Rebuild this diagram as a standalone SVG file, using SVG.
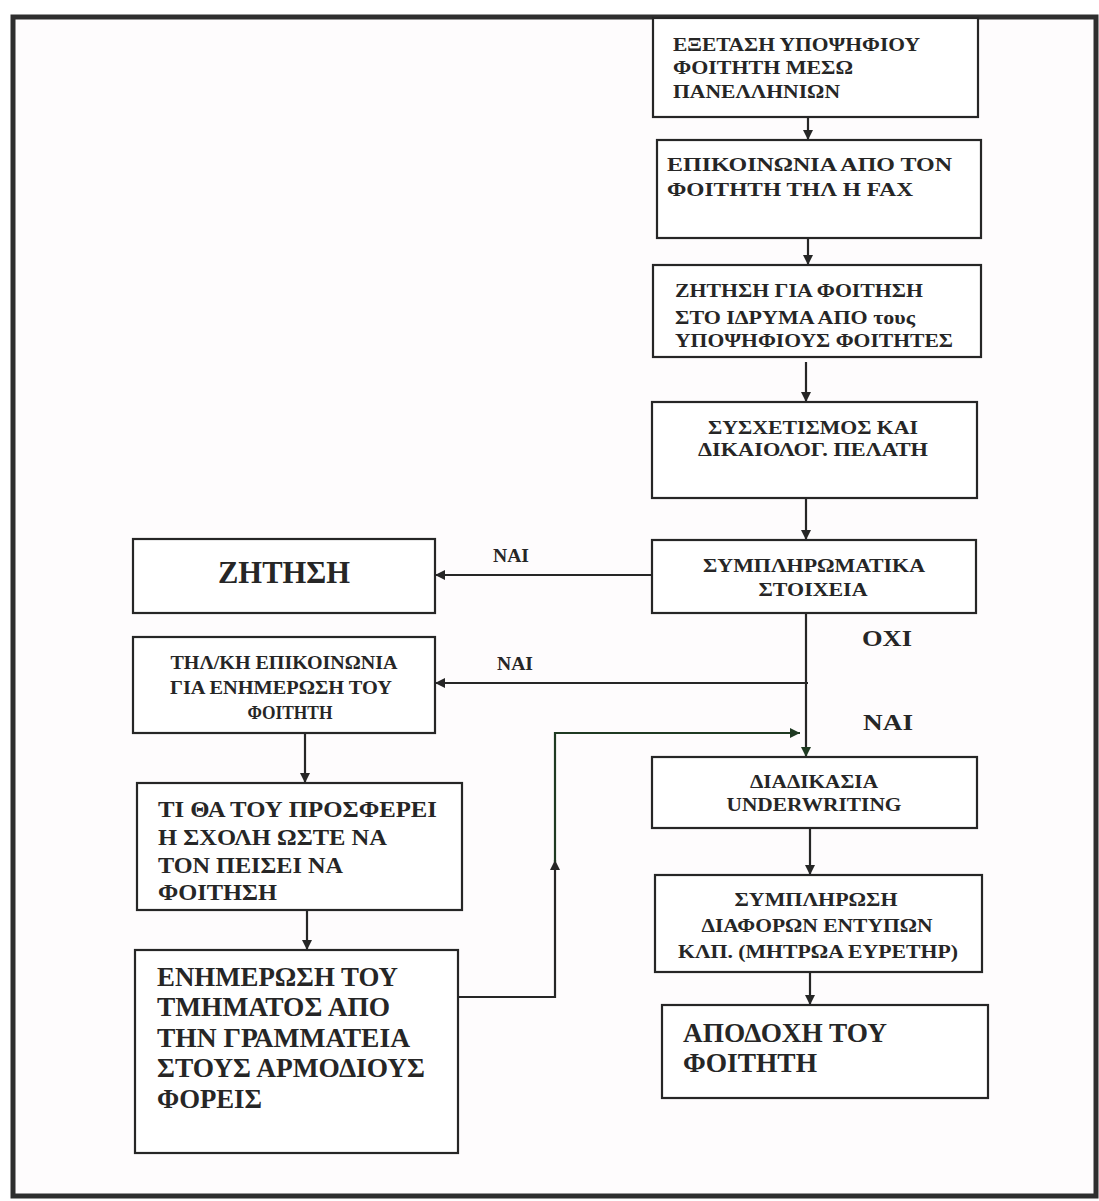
<svg xmlns="http://www.w3.org/2000/svg" width="1099" height="1201" viewBox="0 0 1099 1201">
  <style>
    .box { fill: #ffffff; stroke: #262626; stroke-width: 2.2; }
    .frame { fill: #fefcfd; stroke: #2e2e2e; stroke-width: 5; }
    .t { font-family: "Liberation Serif", "Times New Roman", serif; font-weight: bold; fill: #262626; }
    .s { font-size: 19px; }
    .m { font-size: 24px; }
    .l { font-size: 28px; }
    .xl { font-size: 32px; }
    .c { text-anchor: middle; }
    .wire { fill: none; stroke: #262626; stroke-width: 2.2; }
    .wire.g { stroke: #1f3a22; }
  </style>
  <defs>
    <marker id="arrow" viewBox="0 0 10 10" refX="10" refY="5" markerWidth="12" markerHeight="10" markerUnits="userSpaceOnUse" orient="auto">
      <path d="M0 0 L10 5 L0 10 Z" fill="#262626"/>
    </marker>
    <marker id="arrowG" viewBox="0 0 10 10" refX="10" refY="5" markerWidth="13" markerHeight="10" markerUnits="userSpaceOnUse" orient="auto">
      <path d="M0 0 L10 5 L0 10 Z" fill="#1f3a22"/>
    </marker>
  </defs>

  <!-- page frame -->
  <rect class="frame" x="13" y="17" width="1083" height="1179"/>

  <!-- connectors -->
  <g id="connectors">
    <line class="wire" x1="808" y1="105" x2="808" y2="140" marker-end="url(#arrow)"/>
    <line class="wire" x1="808" y1="222" x2="808" y2="265" marker-end="url(#arrow)"/>
    <line class="wire" x1="806" y1="362" x2="806" y2="402" marker-end="url(#arrow)"/>
    <line class="wire" x1="806" y1="498" x2="806" y2="540" marker-end="url(#arrow)"/>
    <line class="wire" x1="652" y1="575" x2="435" y2="575" marker-end="url(#arrow)"/>
    <line class="wire" x1="806" y1="613" x2="806" y2="757" marker-end="url(#arrowG)"/>
    <line class="wire" x1="808" y1="683" x2="435" y2="683" marker-end="url(#arrow)"/>
    <line class="wire" x1="305" y1="733" x2="305" y2="783" marker-end="url(#arrow)"/>
    <line class="wire" x1="307" y1="902" x2="307" y2="950" marker-end="url(#arrow)"/>
    <path class="wire" d="M458 997 H555 V860" marker-end="url(#arrow)"/>
    <path class="wire g" d="M555 862 V733 H800" marker-end="url(#arrowG)"/>
    <line class="wire" x1="810" y1="828" x2="810" y2="875" marker-end="url(#arrow)"/>
    <line class="wire" x1="810" y1="972" x2="810" y2="1005" marker-end="url(#arrow)"/>
  </g>

  <!-- edge labels -->
  <g id="labels">
    <text class="t s" x="493" y="562" textLength="36" lengthAdjust="spacingAndGlyphs">ΝΑΙ</text>
    <text class="t s" x="497" y="670" textLength="36" lengthAdjust="spacingAndGlyphs">ΝΑΙ</text>
    <text class="t m" x="862" y="646" textLength="50" lengthAdjust="spacingAndGlyphs">ΟΧΙ</text>
    <text class="t m" x="863" y="730" textLength="50" lengthAdjust="spacingAndGlyphs">ΝΑΙ</text>
  </g>

  <g id="exam">
    <rect class="box" x="653" y="18" width="325" height="99"/>
    <text class="t s" x="673" y="51" textLength="247" lengthAdjust="spacingAndGlyphs">ΕΞΕΤΑΣΗ ΥΠΟΨΗΦΙΟΥ</text>
    <text class="t s" x="673" y="74" textLength="180" lengthAdjust="spacingAndGlyphs">ΦΟΙΤΗΤΗ ΜΕΣΩ</text>
    <text class="t s" x="673" y="98" textLength="167" lengthAdjust="spacingAndGlyphs">ΠΑΝΕΛΛΗΝΙΩΝ</text>
  </g>

  <g id="contact">
    <rect class="box" x="657" y="140" width="324" height="98"/>
    <text class="t s" x="667" y="171" textLength="285" lengthAdjust="spacingAndGlyphs">ΕΠΙΚΟΙΝΩΝΙΑ ΑΠΟ ΤΟΝ</text>
    <text class="t s" x="667" y="196" textLength="246" lengthAdjust="spacingAndGlyphs">ΦΟΙΤΗΤΗ ΤΗΛ Η FAX</text>
  </g>

  <g id="request">
    <rect class="box" x="653" y="265" width="328" height="92"/>
    <text class="t s" x="675" y="297" textLength="248" lengthAdjust="spacingAndGlyphs">ΖΗΤΗΣΗ ΓΙΑ ΦΟΙΤΗΣΗ</text>
    <text class="t s" x="675" y="324" textLength="240" lengthAdjust="spacingAndGlyphs">ΣΤΟ ΙΔΡΥΜΑ ΑΠΟ τους</text>
    <text class="t s" x="675" y="347" textLength="278" lengthAdjust="spacingAndGlyphs">ΥΠΟΨΗΦΙΟΥΣ ΦΟΙΤΗΤΕΣ</text>
  </g>

  <g id="correlation">
    <rect class="box" x="652" y="402" width="325" height="96"/>
    <text class="t s c" x="813" y="434" textLength="210" lengthAdjust="spacingAndGlyphs">ΣΥΣΧΕΤΙΣΜΟΣ ΚΑΙ</text>
    <text class="t s c" x="813" y="456" textLength="230" lengthAdjust="spacingAndGlyphs">ΔΙΚΑΙΟΛΟΓ. ΠΕΛΑΤΗ</text>
  </g>

  <g id="extra-data">
    <rect class="box" x="652" y="540" width="324" height="73"/>
    <text class="t s c" x="814" y="572" textLength="222" lengthAdjust="spacingAndGlyphs">ΣΥΜΠΛΗΡΩΜΑΤΙΚΑ</text>
    <text class="t s c" x="813" y="596" textLength="109" lengthAdjust="spacingAndGlyphs">ΣΤΟΙΧΕΙΑ</text>
  </g>

  <g id="demand">
    <rect class="box" x="133" y="539" width="302" height="74"/>
    <text class="t xl c" x="284" y="583" textLength="132" lengthAdjust="spacingAndGlyphs">ΖΗΤΗΣΗ</text>
  </g>

  <g id="phone-contact">
    <rect class="box" x="133" y="637" width="302" height="96"/>
    <text class="t s c" x="284" y="669" textLength="227" lengthAdjust="spacingAndGlyphs">ΤΗΛ/ΚΗ ΕΠΙΚΟΙΝΩΝΙΑ</text>
    <text class="t s c" x="281" y="694" textLength="222" lengthAdjust="spacingAndGlyphs">ΓΙΑ ΕΝΗΜΕΡΩΣΗ ΤΟΥ</text>
    <text class="t s c" x="290" y="719" textLength="85" lengthAdjust="spacingAndGlyphs">ΦΟΙΤΗΤΗ</text>
  </g>

  <g id="offer">
    <rect class="box" x="137" y="783" width="325" height="127"/>
    <text class="t m" x="158" y="817" textLength="279" lengthAdjust="spacingAndGlyphs">ΤΙ ΘΑ ΤΟΥ ΠΡΟΣΦΕΡΕΙ</text>
    <text class="t m" x="158" y="845" textLength="229" lengthAdjust="spacingAndGlyphs">Η ΣΧΟΛΗ ΩΣΤΕ ΝΑ</text>
    <text class="t m" x="158" y="873" textLength="185" lengthAdjust="spacingAndGlyphs">ΤΟΝ ΠΕΙΣΕΙ ΝΑ</text>
    <text class="t m" x="158" y="900" textLength="119" lengthAdjust="spacingAndGlyphs">ΦΟΙΤΗΣΗ</text>
  </g>

  <g id="department-notice">
    <rect class="box" x="135" y="950" width="323" height="203"/>
    <text class="t l" x="157" y="986" textLength="241" lengthAdjust="spacingAndGlyphs">ΕΝΗΜΕΡΩΣΗ ΤΟΥ</text>
    <text class="t l" x="157" y="1016" textLength="233" lengthAdjust="spacingAndGlyphs">ΤΜΗΜΑΤΟΣ ΑΠΟ</text>
    <text class="t l" x="157" y="1047" textLength="253" lengthAdjust="spacingAndGlyphs">ΤΗΝ ΓΡΑΜΜΑΤΕΙΑ</text>
    <text class="t l" x="157" y="1077" textLength="268" lengthAdjust="spacingAndGlyphs">ΣΤΟΥΣ ΑΡΜΟΔΙΟΥΣ</text>
    <text class="t l" x="157" y="1108" textLength="105" lengthAdjust="spacingAndGlyphs">ΦΟΡΕΙΣ</text>
  </g>

  <g id="underwriting">
    <rect class="box" x="652" y="757" width="325" height="71"/>
    <text class="t s c" x="814" y="788" textLength="128" lengthAdjust="spacingAndGlyphs">ΔΙΑΔΙΚΑΣΙΑ</text>
    <text class="t s c" x="814" y="811" textLength="175" lengthAdjust="spacingAndGlyphs">UNDERWRITING</text>
  </g>

  <g id="forms">
    <rect class="box" x="655" y="875" width="327" height="97"/>
    <text class="t s c" x="816" y="906" textLength="163" lengthAdjust="spacingAndGlyphs">ΣΥΜΠΛΗΡΩΣΗ</text>
    <text class="t s c" x="817" y="932" textLength="231" lengthAdjust="spacingAndGlyphs">ΔΙΑΦΟΡΩΝ ΕΝΤΥΠΩΝ</text>
    <text class="t s c" x="818" y="958" textLength="280" lengthAdjust="spacingAndGlyphs">ΚΛΠ. (ΜΗΤΡΩΑ ΕΥΡΕΤΗΡ)</text>
  </g>

  <g id="acceptance">
    <rect class="box" x="662" y="1005" width="326" height="93"/>
    <text class="t l" x="683" y="1042" textLength="204" lengthAdjust="spacingAndGlyphs">ΑΠΟΔΟΧΗ ΤΟΥ</text>
    <text class="t l" x="683" y="1072" textLength="134" lengthAdjust="spacingAndGlyphs">ΦΟΙΤΗΤΗ</text>
  </g>
</svg>
